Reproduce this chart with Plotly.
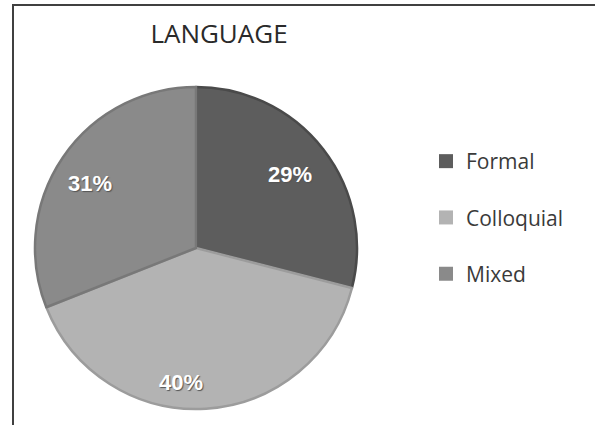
import math
import plotly.graph_objects as go

# ---- data ----
title_text = "LANGUAGE"
categories = ["Formal", "Colloquial", "Mixed"]
values = [29, 40, 31]
slice_colors = ["#5d5d5d", "#b3b3b3", "#8a8a8a"]
edge_colors = ["#4a4a4a", "#9c9c9c", "#787878"]

W, H = 595, 425
CX, CY, R = 196, 248, 161          # pie centre / radius in pixels
label_radius = [0.74, 0.84, 0.77]  # radial position of each % label (fraction of R)
label_turn = [0, 10, -3]           # small angular nudge (deg) for label placement

fig = go.Figure()

fig.add_trace(go.Pie(
    labels=categories,
    values=values,
    sort=False,
    direction="clockwise",
    rotation=0,
    marker=dict(colors=slice_colors, line=dict(color=edge_colors, width=2.5)),
    textinfo="none",
    domain=dict(x=[(CX - R) / W, (CX + R) / W], y=[(H - CY - R) / H, (H - CY + R) / H]),
    showlegend=False,
    hoverinfo="label+percent",
))

# percentage labels placed from the data (mid-angle of each slice)
total = sum(values)
annotations = []
cum = 0
for v, rf, turn in zip(values, label_radius, label_turn):
    mid = (cum + v / 2) / total * 2 * math.pi + math.radians(turn)
    cum += v
    px = CX + rf * R * math.sin(mid)
    py = CY - rf * R * math.cos(mid)
    annotations.append(dict(
        x=px / W, y=1 - py / H, xref="paper", yref="paper", showarrow=False,
        text=f"{round(v / total * 100)}%",
        font=dict(family="Liberation Sans", size=22, color="white", weight="bold",
                  shadow="1px 1px 1px #555"),
        xanchor="center", yanchor="middle",
    ))

# legend entries (one per category, spaced like the reference)
for cat, col in zip(categories, slice_colors):
    fig.add_trace(go.Scatter(
        x=[None], y=[None], mode="markers", name=cat,
        marker=dict(symbol="square", size=14, color=col, line=dict(width=0)),
        legendgroup=cat, showlegend=True, hoverinfo="skip",
    ))

fig.update_layout(
    width=W, height=H,
    margin=dict(l=0, r=0, t=0, b=0),
    paper_bgcolor="white",
    plot_bgcolor="white",
    xaxis=dict(visible=False),
    yaxis=dict(visible=False),
    title=dict(text=title_text, x=219 / W, xanchor="center", y=1 - 34 / H, yanchor="middle",
               font=dict(family="Open Sans", size=26, color="#2a2a2a")),
    legend=dict(x=426 / W, xanchor="left", y=1 - 141 / H, yanchor="top",
                font=dict(family="Open Sans", size=21, color="#3a3a3a"),
                tracegroupgap=26, bgcolor="rgba(0,0,0,0)"),
    annotations=annotations,
    shapes=[dict(type="path", xref="paper", yref="paper",
                 path=f"M {13/W},0 L {13/W},{1-5/H} L 1,{1-5/H}",
                 line=dict(color="#404040", width=2))],
)

fig.write_html("out.html")
